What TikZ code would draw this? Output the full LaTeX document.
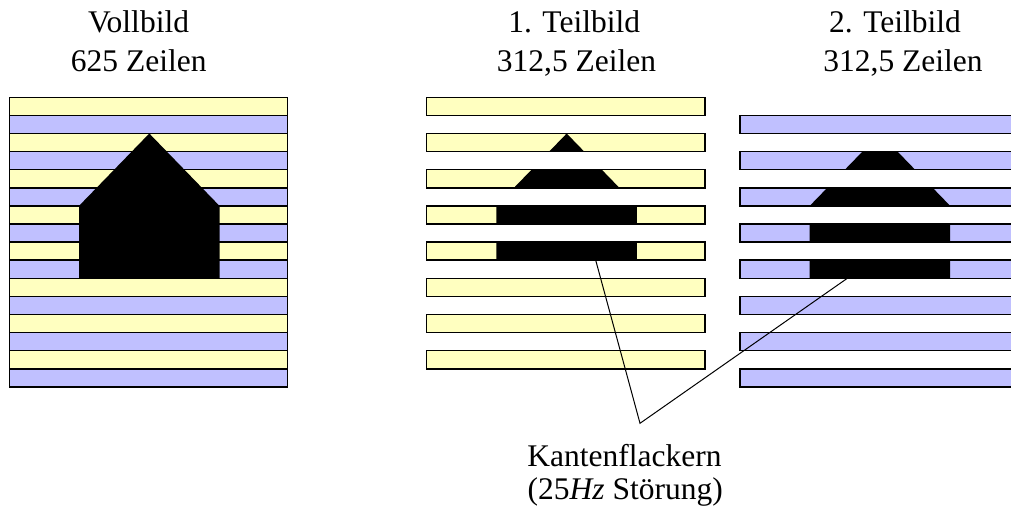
\documentclass[tikz,border=0pt]{standalone}
\usepackage{fontspec}
\setmainfont{Liberation Serif}
\newfontfamily\capfont{Liberation Serif}
\definecolor{lineyellow}{HTML}{FFFFC0}
\definecolor{lineblue}{HTML}{C0C0FF}
\tikzset{
  stripe/.style={draw=black, line width=1.5pt},
  house/.style={fill=black, draw=none},
  caption/.style={anchor=base, inner sep=0pt, font=\capfont\fontsize{31.5}{36}\selectfont},
  pointer/.style={draw=black, line width=1pt}
}
% stripe geometry: first line top, line height, line width
\def\ltop{97.3}
\def\lh{18.1}
\def\lw{278.4}
\begin{document}
\begin{tikzpicture}[x=1pt,y=-1pt]
\useasboundingbox (0,0) rectangle (1011,510);

% ---------- full frame: 16 interleaved lines ----------
\foreach \k in {0,...,15}{
  \pgfmathsetmacro{\yy}{\ltop+\k*\lh}
  \pgfmathtruncatemacro{\odd}{mod(\k,2)}
  \ifnum\odd=0 \def\c{lineyellow}\else\def\c{lineblue}\fi
  \path[fill=\c] (9.3,\yy) rectangle ++(\lw,\lh);
}
\foreach \k in {0,...,15}{
  \pgfmathsetmacro{\yy}{\ltop+\k*\lh}
  \draw[stripe] (9.3,\yy) rectangle ++(\lw,\lh);
}
\path[house] (149.3,133.5) -- (219.5,205.9) -- (219.5,278.3) -- (79,278.3) -- (79,205.9) -- cycle;

% ---------- field 1: even lines ----------
\begin{scope}[xshift=417.4pt]
  \foreach \k in {0,2,...,14}{
    \pgfmathsetmacro{\yy}{\ltop+\k*\lh}
    \path[fill=lineyellow] (9.3,\yy) rectangle ++(\lw,\lh);
  }
  \begin{scope}
    \clip (9.3,\ltop) rectangle ++(\lw,\lh)
          (9.3,{\ltop+2*\lh}) rectangle ++(\lw,\lh)
          (9.3,{\ltop+4*\lh}) rectangle ++(\lw,\lh)
          (9.3,{\ltop+6*\lh}) rectangle ++(\lw,\lh)
          (9.3,{\ltop+8*\lh}) rectangle ++(\lw,\lh);
    \path[house] (149.3,133.5) -- (219.5,205.9) -- (219.5,278.3) -- (79,278.3) -- (79,205.9) -- cycle;
  \end{scope}
  \foreach \k in {0,2,...,14}{
    \pgfmathsetmacro{\yy}{\ltop+\k*\lh}
    \draw[stripe] (9.3,\yy) rectangle ++(\lw,\lh);
  }
\end{scope}

% ---------- field 2: odd lines ----------
\begin{scope}[xshift=730.7pt]
  \foreach \k in {1,3,...,15}{
    \pgfmathsetmacro{\yy}{\ltop+\k*\lh}
    \path[fill=lineblue] (9.3,\yy) rectangle ++(\lw,\lh);
  }
  \begin{scope}
    \clip (9.3,{\ltop+1*\lh}) rectangle ++(\lw,\lh)
          (9.3,{\ltop+3*\lh}) rectangle ++(\lw,\lh)
          (9.3,{\ltop+5*\lh}) rectangle ++(\lw,\lh)
          (9.3,{\ltop+7*\lh}) rectangle ++(\lw,\lh)
          (9.3,{\ltop+9*\lh}) rectangle ++(\lw,\lh);
    \path[house] (149.3,133.5) -- (219.5,205.9) -- (219.5,278.3) -- (79,278.3) -- (79,205.9) -- cycle;
  \end{scope}
  \foreach \k in {1,3,...,15}{
    \pgfmathsetmacro{\yy}{\ltop+\k*\lh}
    \draw[stripe] (9.3,\yy) rectangle ++(\lw,\lh);
  }
\end{scope}

% ---------- captions ----------
\node[caption] (t1a) at (138.5,32.3) {Vollbild};
\node[caption] (t1b) at (138.7,71.7) {625 Zeilen};
\node[caption] (t2a) at (574.2,32.3) {1. Teilbild};
\node[caption] (t2b) at (576.5,71.7) {312,5 Zeilen};
\node[caption] (t3a) at (895.0,32.3) {2. Teilbild};
\node[caption] (t3b) at (903.0,71.7) {312,5 Zeilen};
\node[caption] (k1) at (624.5,466.7) {Kantenflackern};
\node[caption] (k2) at (625.3,499.5) {(25\textit{Hz} Störung)};

% ---------- pointers to the flickering edges ----------
\coordinate (e1) at (595.7,260.2);
\coordinate (e2) at (847.3,278.3);
\coordinate (v) at (640,423.3);
\draw[pointer] (e1) -- (v) -- (e2);
\end{tikzpicture}
\end{document}
